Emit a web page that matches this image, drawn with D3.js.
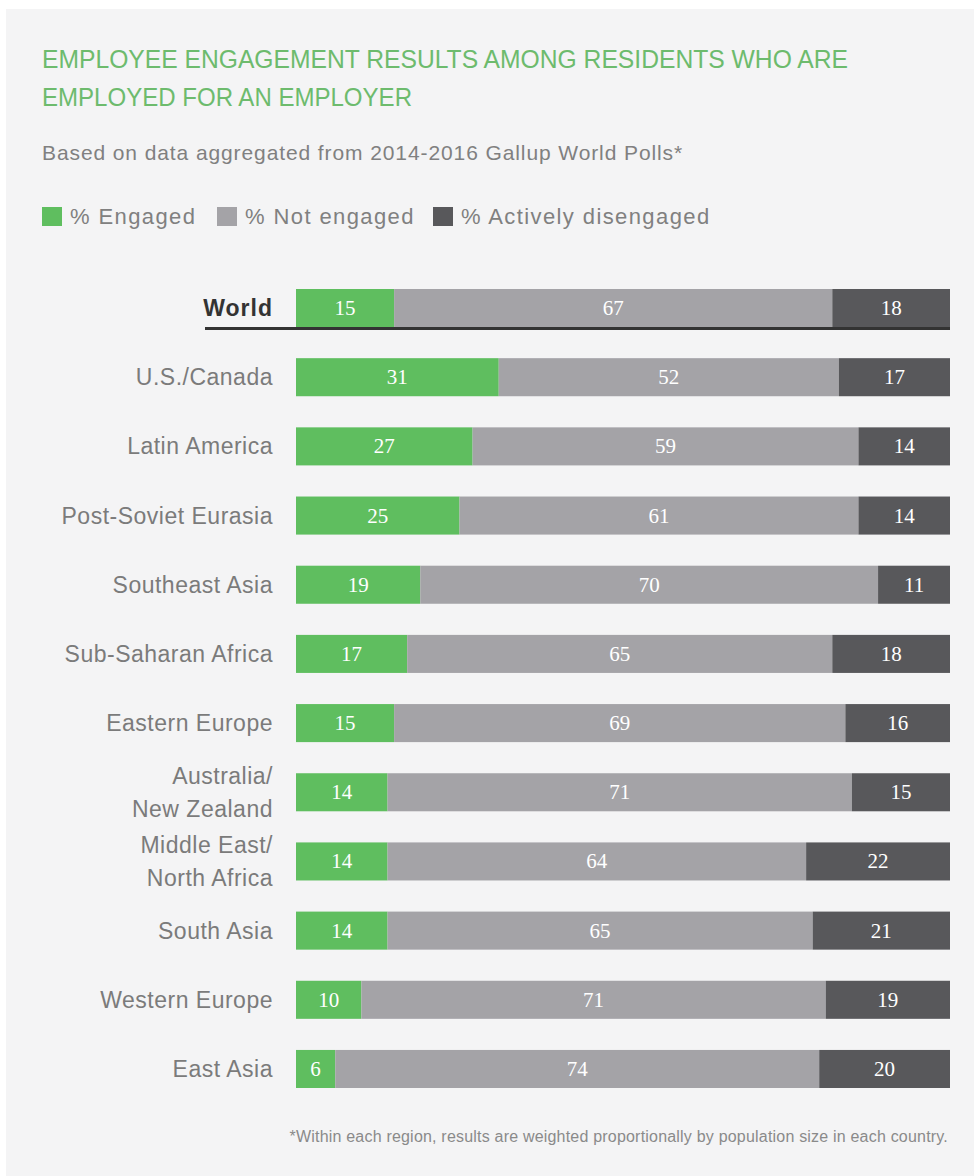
<!DOCTYPE html>
<html>
<head>
<meta charset="utf-8">
<script src="https://cdn.jsdelivr.net/npm/d3@7"></script>
<style>
  body { margin: 0; background: #fff; }
</style>
</head>
<body>
<script>
const width = 974
const height = 1176

const regions = ["World", "U.S./Canada", "Latin America", "Post-Soviet Eurasia", "Southeast Asia",
  "Sub-Saharan Africa", "Eastern Europe", "Australia/\nNew Zealand", "Middle East/\nNorth Africa",
  "South Asia", "Western Europe", "East Asia"]
const engaged = [15, 31, 27, 25, 19, 17, 15, 14, 14, 14, 10, 6]
const notEngaged = [67, 52, 59, 61, 70, 65, 69, 71, 64, 65, 71, 74]
const disengaged = [18, 17, 14, 14, 11, 18, 16, 15, 22, 21, 19, 20]
const seriesNames = ["% Engaged", "% Not engaged", "% Actively disengaged"]
const seriesColors = ["#5fbe5f", "#a4a3a7", "#58585b"]

const rows = regions.map((name, i) => ({name, values: [engaged[i], notEngaged[i], disengaged[i]]}))

const svg = d3.select("body").append("svg")
    .attr("width", width)
    .attr("height", height)
    .style("font-family", "'Liberation Sans', Arial, sans-serif")

svg.append("rect")
    .attr("x", 6).attr("y", 9)
    .attr("width", width - 6).attr("height", height - 9)
    .attr("fill", "#f4f4f5")

// title block
const titleLines = ["EMPLOYEE ENGAGEMENT RESULTS AMONG RESIDENTS WHO ARE", "EMPLOYED FOR AN EMPLOYER"]
const titleWidths = [806, 370]
svg.selectAll("text.title").data(titleLines).join("text")
    .attr("class", "title")
    .attr("x", 42)
    .attr("y", (d, i) => 68 + i * 38)
    .attr("textLength", (d, i) => titleWidths[i])
    .attr("lengthAdjust", "spacingAndGlyphs")
    .style("font-family", "'Liberation Sans Narrow', 'Liberation Sans', Arial, sans-serif")
    .style("font-size", "25px")
    .attr("fill", "#6dbb6d")
    .text(d => d)

svg.append("text")
    .attr("x", 42).attr("y", 160)
    .style("font-size", "21px")
    .style("letter-spacing", "0.9px")
    .attr("fill", "#808080")
    .text("Based on data aggregated from 2014-2016 Gallup World Polls*")

// legend
const legendX = [42, 217, 433]
const legend = svg.selectAll("g.legend").data(seriesNames).join("g")
    .attr("class", "legend")
    .attr("transform", (d, i) => `translate(${legendX[i]},207)`)
legend.append("rect")
    .attr("width", 20).attr("height", 19)
    .attr("fill", (d, i) => seriesColors[i])
legend.append("text")
    .attr("x", 28).attr("y", 17)
    .style("font-size", "22px")
    .style("letter-spacing", "1.4px")
    .attr("fill", "#808080")
    .text(d => d)

// scales
const x = d3.scaleLinear().domain([0, 100]).range([296, 950])
const y = d3.scaleBand().domain(regions).range([289, 1088]).paddingInner(0.45)

const row = svg.selectAll("g.row").data(rows).join("g")
    .attr("class", "row")
    .attr("transform", d => `translate(0,${y(d.name)})`)

const segs = row.selectAll("g.seg")
    .data(d => {
      let acc = 0
      return d.values.map((v, k) => {
        const s = {start: acc, value: v, k}
        acc += v
        return s
      })
    })
    .join("g").attr("class", "seg")

segs.append("rect")
    .attr("x", d => x(d.start))
    .attr("width", d => x(d.start + d.value) - x(d.start))
    .attr("height", y.bandwidth())
    .attr("fill", d => seriesColors[d.k])

segs.append("text")
    .attr("x", d => x(d.start + d.value / 2))
    .attr("y", y.bandwidth() / 2 + 7)
    .attr("text-anchor", "middle")
    .style("font-family", "'Liberation Serif', 'Times New Roman', serif")
    .style("font-size", "21px")
    .attr("fill", "#fff")
    .text(d => d.value)

// region labels
row.append("text")
    .attr("x", 273)
    .attr("text-anchor", "end")
    .style("font-size", "23px")
    .style("letter-spacing", d => d.name === "World" ? "1px" : "0.5px")
    .style("font-weight", d => d.name === "World" ? "bold" : "normal")
    .attr("fill", d => d.name === "World" ? "#333" : "#7b7b7b")
    .each(function(d) {
      const lines = d.name.split("\n")
      const t = d3.select(this)
      const base = y.bandwidth() / 2 + 8 - (lines.length - 1) * 16.5
      lines.forEach((l, i) => {
        t.append("tspan").attr("x", 273).attr("y", base + i * 33).text(l)
      })
    })

// underline for World
svg.append("line")
    .attr("x1", 205).attr("x2", x(100))
    .attr("y1", y("World") + y.bandwidth() + 1.5)
    .attr("y2", y("World") + y.bandwidth() + 1.5)
    .attr("stroke", "#333")
    .attr("stroke-width", 3)

svg.append("text")
    .attr("x", 948).attr("y", 1142)
    .attr("text-anchor", "end")
    .style("font-size", "16px")
    .style("letter-spacing", "0.2px")
    .attr("fill", "#8a8a8a")
    .text("*Within each region, results are weighted proportionally by population size in each country.")
</script>
</body>
</html>
